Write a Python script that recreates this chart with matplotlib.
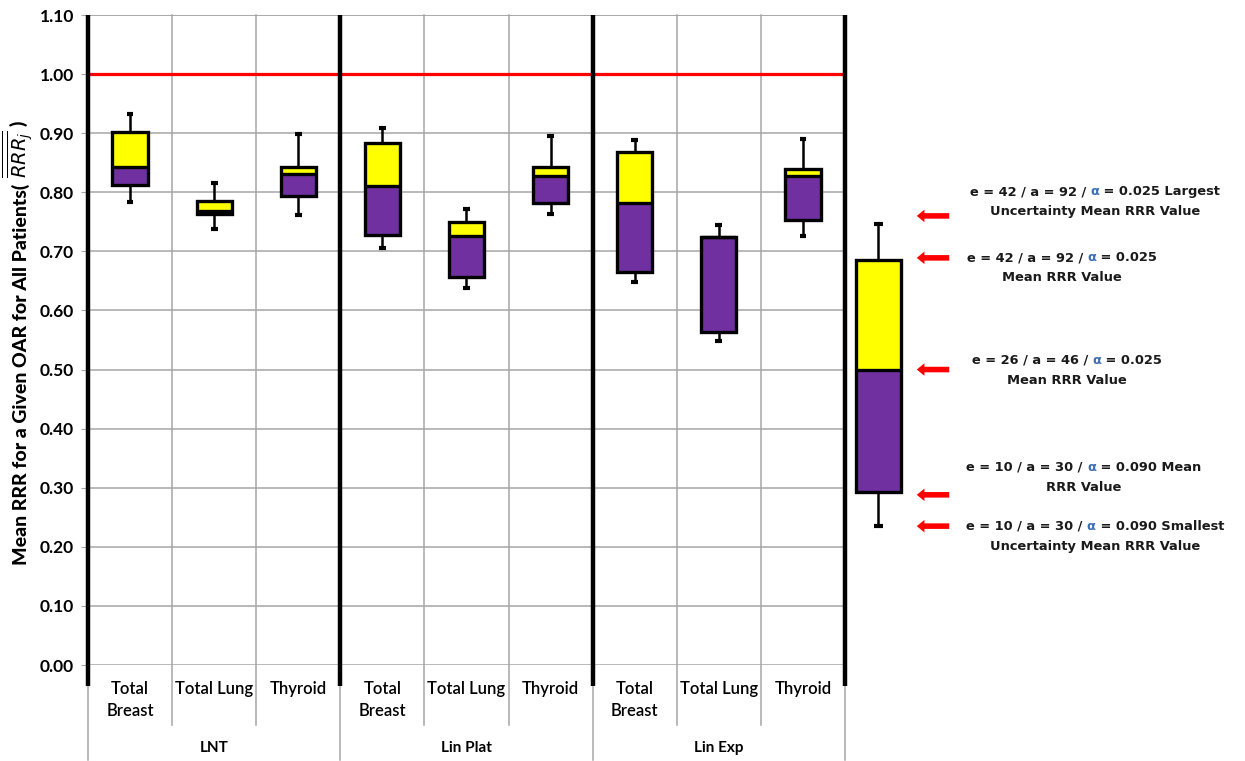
import matplotlib
matplotlib.use("Agg")
import matplotlib.pyplot as plt
from matplotlib.patches import Rectangle, FancyArrowPatch
from matplotlib.offsetbox import TextArea, HPacker, VPacker, AnnotationBbox

# ---- data -------------------------------------------------------------
models = ["LNT", "Lin Plat", "Lin Exp"]
organs = ["Total\nBreast", "Total Lung", "Thyroid"]

# per box, bottom to top:
# smallest-uncertainty mean, low mean, middle mean, high mean, largest-uncertainty mean
whisker_low = [0.784, 0.738, 0.762, 0.706, 0.638, 0.764, 0.648, 0.548, 0.726]
box_low = [0.813, 0.764, 0.794, 0.728, 0.656, 0.782, 0.665, 0.563, 0.753]
box_mid = [0.842, 0.768, 0.831, 0.811, 0.726, 0.828, 0.782, 0.725, 0.828]
box_high = [0.902, 0.786, 0.842, 0.883, 0.750, 0.842, 0.868, 0.725, 0.839]
whisker_high = [0.932, 0.816, 0.899, 0.908, 0.771, 0.896, 0.888, 0.745, 0.891]

reference_level = 1.0
y_ticks = [0.0, 0.1, 0.2, 0.3, 0.4, 0.5, 0.6, 0.7, 0.8, 0.9, 1.0, 1.1]

# key box and its annotations
key_values = [0.235, 0.293, 0.500, 0.685, 0.747]
key_labels = [
    ("e = 10 / a = 30 / ", " = 0.090 Smallest", "Uncertainty Mean RRR Value"),
    ("e = 10 / a = 30 / ", " = 0.090 Mean", "RRR Value"),
    ("e = 26 / a = 46 / ", " = 0.025", "Mean RRR Value"),
    ("e = 42 / a = 92 / ", " = 0.025", "Mean RRR Value"),
    ("e = 42 / a = 92 / ", " = 0.025 Largest", "Uncertainty Mean RRR Value"),
]

YELLOW = "#ffff00"
PURPLE = "#7030a0"
GRID = "#a6a6a6"

W, H, DPI = 1245, 761, 100
fig = plt.figure(figsize=(W / DPI, H / DPI), dpi=DPI)

left_px, right_px, top_px, bottom_px = 88, 845, 15, 665
ax = fig.add_axes([left_px / W, 1 - bottom_px / H,
                   (right_px - left_px) / W, (bottom_px - top_px) / H])

TICK_FONT = dict(family="Lato", weight="bold", size=12.5)


def draw_box(a, x, lo, q1, mid, q3, hi, width, cap):
    a.add_patch(Rectangle((x - width / 2, q1), width, mid - q1,
                          facecolor=PURPLE, edgecolor="none", zorder=3))
    a.add_patch(Rectangle((x - width / 2, mid), width, q3 - mid,
                          facecolor=YELLOW, edgecolor="none", zorder=3))
    a.add_patch(Rectangle((x - width / 2, q1), width, q3 - q1,
                          facecolor="none", edgecolor="black", lw=2.4,
                          zorder=4, joinstyle="miter"))
    a.plot([x - width / 2, x + width / 2], [mid, mid], color="black",
           lw=2.4, zorder=4, solid_capstyle="butt")
    a.plot([x, x], [q3, hi], color="black", lw=1.8, zorder=2)
    a.plot([x, x], [lo, q1], color="black", lw=1.8, zorder=2)
    for v in (lo, hi):
        a.plot([x - cap / 2, x + cap / 2], [v, v], color="black", lw=3,
               zorder=2, solid_capstyle="butt")


n = len(models) * len(organs)
xs = list(range(n))
for i in xs:
    draw_box(ax, i, whisker_low[i], box_low[i], box_mid[i], box_high[i],
             whisker_high[i], width=0.42, cap=0.08)

ax.set_xlim(-0.5, n - 0.5)
ax.set_ylim(0, 1.1)
ax.set_yticks(y_ticks)
ax.set_yticklabels([f"{v:.2f}" for v in y_ticks], fontdict=TICK_FONT)
ax.set_xticks([])
ax.tick_params(axis="y", length=5, color=GRID, pad=5)
ax.yaxis.grid(True, color=GRID, lw=1.1, zorder=0)
ax.set_axisbelow(True)
for s in ax.spines.values():
    s.set_visible(False)
ax.axhline(1.1, color=GRID, lw=1.1, zorder=0)

ax.axhline(reference_level, color="red", lw=2.3, zorder=1)

# separators between categories and model groups
cat_depth = -0.102
grp_depth = -0.161
thick_end = -0.035
for k in range(n + 1):
    xb = k - 0.5
    if k % len(organs) == 0:
        ax.plot([xb, xb], [1.1, thick_end], color="black", lw=3.2,
                clip_on=False, zorder=5, solid_capstyle="butt")
        ax.plot([xb, xb], [thick_end, grp_depth], color=GRID, lw=1.1,
                clip_on=False, zorder=1)
    else:
        ax.plot([xb, xb], [1.1, cat_depth], color=GRID, lw=1.1,
                clip_on=False, zorder=0)

CAT_FONT = dict(family="Lato", size=12, weight="semibold")
for i in xs:
    ax.text(i, -0.027, organs[i % len(organs)], ha="center", va="top",
            linespacing=1.45, clip_on=False, **CAT_FONT)
for g, name in enumerate(models):
    ax.text(g * len(organs) + 1, -0.140, name, ha="center", va="center",
            clip_on=False, family="Lato", weight="bold", size=11)

# y-axis title: bold words followed by the doubly overlined RRR_j symbol
label_anchor = (27 / W, 1 - 184 / H)
fig.text(*label_anchor, "Mean RRR for a Given OAR for All Patients(",
         rotation=90, rotation_mode="anchor", ha="right", va="baseline",
         family="Lato", weight="black", size=14)
fig.text(*label_anchor, r"$\ \overline{\overline{RRR_j}}\ $)",
         rotation=90, rotation_mode="anchor", ha="left", va="baseline",
         family="Lato", weight="black", size=14)

# ---- key ----------------------------------------------------------------
key_left = 848
ax2 = fig.add_axes([key_left / W, 1 - bottom_px / H,
                    (W - key_left) / W, (bottom_px - top_px) / H])
ax2.set_xlim(key_left, W)
ax2.set_ylim(0, 1.1)
ax2.axis("off")

draw_box(ax2, 878, *key_values, width=45, cap=9)

arrow_y = [key_values[0], key_values[1] - 0.005, key_values[2],
           key_values[3] + 0.004, key_values[4] + 0.013]
text_y = [0.218, 0.318, 0.499, 0.672, 0.784]
text_x = [1095, 1084, 1067, 1062, 1095]

LEG_FONT = dict(family="DejaVu Sans", weight="bold", size=9.4, color="#1a1a1a")
for j, (pre, post, line2) in enumerate(key_labels):
    arr = FancyArrowPatch((952, arrow_y[j]), (914, arrow_y[j]),
                          arrowstyle="simple,head_length=0.55,head_width=0.9,tail_width=0.4",
                          mutation_scale=10, color="red", lw=0)
    ax2.add_patch(arr)
    row1 = HPacker(children=[TextArea(pre, textprops=LEG_FONT),
                             TextArea("α", textprops=dict(LEG_FONT, color="#3d6fb6")),
                             TextArea(post, textprops=LEG_FONT)],
                   pad=0, sep=0, align="baseline")
    row2 = TextArea(line2, textprops=LEG_FONT)
    block = VPacker(children=[row1, row2], pad=0, sep=5, align="center")
    ab = AnnotationBbox(block, (text_x[j], text_y[j]), xycoords="data",
                        frameon=False, box_alignment=(0.5, 0.5))
    ax2.add_artist(ab)

fig.savefig("out.png", dpi=DPI)
